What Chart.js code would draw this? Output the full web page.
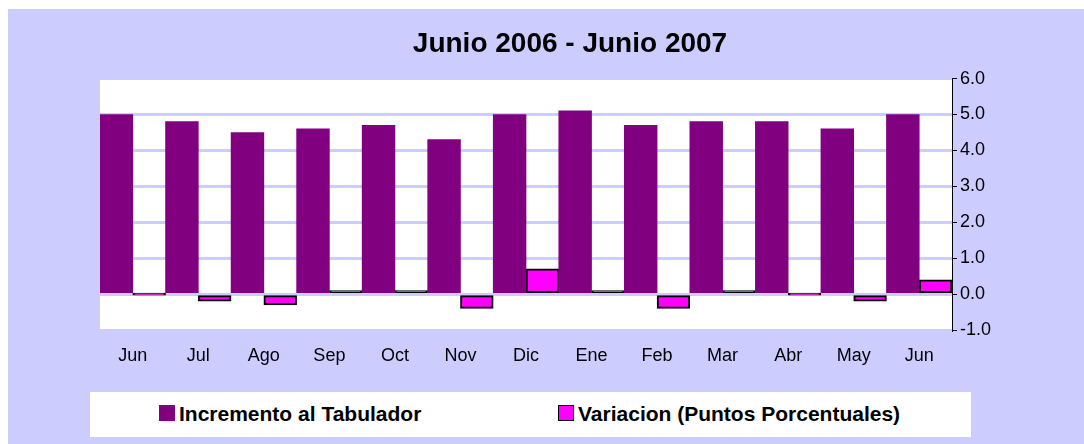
<!DOCTYPE html>
<html>
<head>
<meta charset="utf-8">
<script src="https://cdn.jsdelivr.net/npm/chart.js@4/dist/chart.umd.min.js"></script>
<style>
  body { margin: 0; background: #fff; }
  #wrap { position: absolute; left: 8px; top: 9px; width: 1076px; height: 435px; background: #CCCCFF; }
  #legend { position: absolute; left: 82px; top: 383px; width: 881px; height: 45px; background: #fff;
            font: bold 21px "Liberation Sans", Arial, sans-serif; color: #000; }
  .sw { position: absolute; top: 13px; width: 16px; height: 16px; box-sizing: border-box; }
  .lt { position: absolute; top: 0; line-height: 44px; white-space: nowrap; }
</style>
</head>
<body>
<div id="wrap">
  <canvas id="chart"></canvas>
  <div id="legend"></div>
</div>
<script>
var months = ['Jun', 'Jul', 'Ago', 'Sep', 'Oct', 'Nov', 'Dic', 'Ene', 'Feb', 'Mar', 'Abr', 'May', 'Jun'];
var incremento = [5.0, 4.8, 4.5, 4.6, 4.7, 4.3, 5.0, 5.1, 4.7, 4.8, 4.8, 4.6, 5.0];
var variacion = [0.0, -0.2, -0.3, 0.1, 0.1, -0.4, 0.7, 0.1, -0.4, 0.1, 0.0, -0.2, 0.4];
var yTicks = [-1, 0, 1, 2, 3, 4, 5, 6];

var fontFamily = '"Liberation Sans", Arial, sans-serif';

// white plot area
var plotBg = {
    id: 'plotBg',
    beforeDraw: function(chart) {
        var a = chart.chartArea;
        chart.ctx.save();
        chart.ctx.fillStyle = '#ffffff';
        chart.ctx.fillRect(a.left, a.top, a.right - a.left, a.bottom - a.top);
        chart.ctx.restore();
    }
};

var ctx = document.getElementById('chart').getContext('2d');
var chart = new Chart(ctx, {
    type: 'bar',
    data: {
        labels: months,
        datasets: [{
            label: 'Incremento al Tabulador',
            data: incremento,
            backgroundColor: '#800080',
            borderWidth: 0,
            yAxisID: 'y'
        }, {
            label: 'Variacion (Puntos Porcentuales)',
            data: variacion,
            backgroundColor: '#FF00FF',
            borderColor: '#000000',
            borderWidth: 2,
            borderSkipped: false,
            minBarLength: 2,
            yAxisID: 'y'
        }]
    },
    options: {
        responsive: true,
        maintainAspectRatio: false,
        animation: false,
        categoryPercentage: 1.0,
        barPercentage: 1.0,
        layout: { padding: { left: 48, right: 0, top: 0, bottom: 74 } },
        plugins: {
            legend: { display: false },
            tooltip: { enabled: false },
            title: {
                display: true,
                text: 'Junio 2006 - Junio 2007',
                color: '#000',
                font: { family: fontFamily, size: 28, weight: 'bold' },
                padding: { top: 18, bottom: 18 }
            }
        },
        scales: {
            x: {
                grid: { display: false },
                border: { display: false },
                ticks: { color: '#000', font: { family: fontFamily, size: 18 }, padding: 7, maxRotation: 0 },
                afterFit: function(s) { s.height = 40; }
            },
            yl: {
                position: 'left',
                type: 'linear',
                grid: { display: false },
                border: { display: false },
                ticks: { display: false },
                afterFit: function(s) { s.width = 44; }
            },
            y: {
                position: 'right',
                min: -1,
                max: 6,
                afterBuildTicks: function(s) {
                    s.ticks = yTicks.map(function(v) { return { value: v }; });
                },
                grid: { color: '#CCCCFF', lineWidth: 3, tickLength: 5, tickColor: '#000', tickWidth: 1 },
                border: { display: true, color: '#000', width: 1 },
                ticks: {
                    color: '#000',
                    padding: 3,
                    font: { family: fontFamily, size: 18 },
                    callback: function(v) { return Number(v).toFixed(1); }
                },
                afterFit: function(s) { s.width = 132; }
            }
        }
    },
    plugins: [plotBg]
});

// legend boxes built from the dataset labels
var legend = document.getElementById('legend');
var swX = [69, 468];
chart.data.datasets.forEach(function(ds, i) {
    var sw = document.createElement('div');
    sw.className = 'sw';
    sw.style.left = swX[i] + 'px';
    sw.style.background = ds.backgroundColor;
    if (ds.borderWidth) sw.style.border = '1.5px solid #000';
    legend.appendChild(sw);
    var t = document.createElement('div');
    t.className = 'lt';
    t.style.left = (swX[i] + 20) + 'px';
    t.textContent = ds.label;
    legend.appendChild(t);
});
</script>
</body>
</html>
